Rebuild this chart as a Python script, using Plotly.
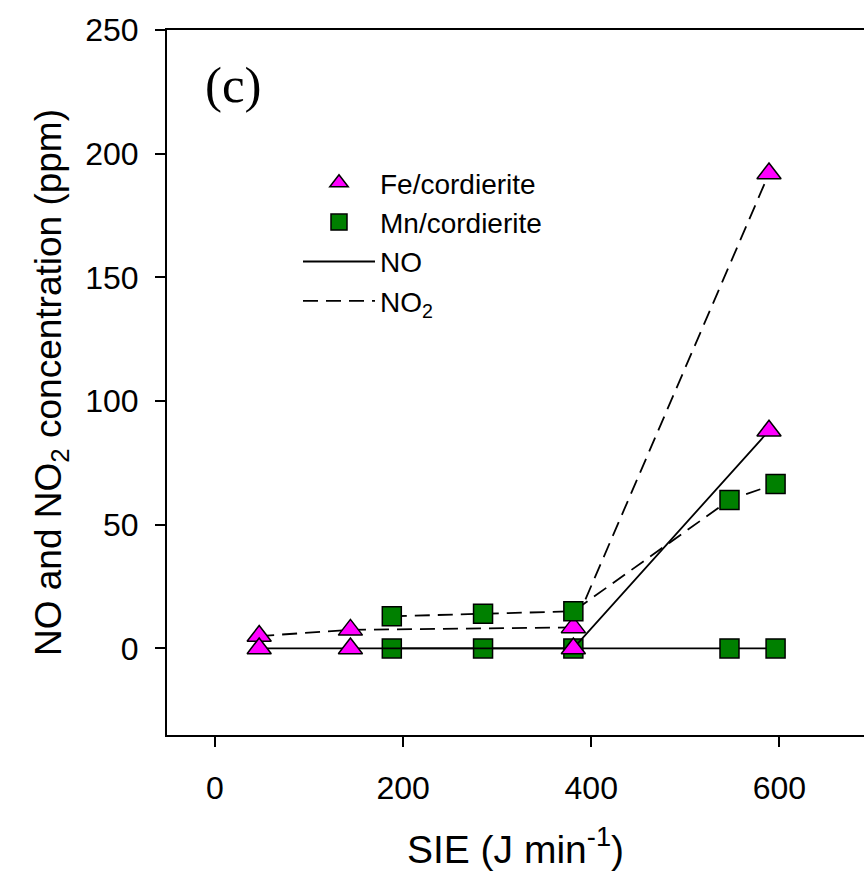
import plotly.graph_objects as go

# ---- data ----
fe_sie = [47, 144, 381, 589]
fe_no = [0, 0, 0, 88]
fe_no2 = [5, 7.5, 8.5, 192]

mn_sie = [188, 285, 381, 547, 596]
mn_no = [0, 0, 0, 0, 0]
mn_no2 = [13, 14, 15, 60, 66.5]

x_ticks = [0, 200, 400, 600]
y_ticks = [0, 50, 100, 150, 200, 250]

FE_COLOR = "#FF00FF"
MN_COLOR = "#008000"
DASH = "15px,8px"

fe_marker = dict(symbol="triangle-up", size=21, color=FE_COLOR,
                 line=dict(color="black", width=1.5))
mn_marker = dict(symbol="square", size=19, color=MN_COLOR,
                 line=dict(color="black", width=1.5))

fig = go.Figure()

# data traces (drawing order chosen to match overlaps)
fig.add_trace(go.Scatter(x=mn_sie, y=mn_no, mode="lines+markers",
                         line=dict(color="black", width=1.8),
                         marker=mn_marker, showlegend=False))
fig.add_trace(go.Scatter(x=fe_sie, y=fe_no2, mode="lines+markers",
                         line=dict(color="black", width=1.8, dash=DASH),
                         marker=fe_marker, showlegend=False))
fig.add_trace(go.Scatter(x=mn_sie, y=mn_no2, mode="lines+markers",
                         line=dict(color="black", width=1.8, dash=DASH),
                         marker=mn_marker, showlegend=False))
fig.add_trace(go.Scatter(x=fe_sie, y=fe_no, mode="lines+markers",
                         line=dict(color="black", width=1.8),
                         marker=fe_marker, showlegend=False))

# legend entries
fig.add_trace(go.Scatter(x=[None], y=[None], mode="markers", marker=fe_marker,
                         name="Fe/cordierite", legendgroup="a"))
fig.add_trace(go.Scatter(x=[None], y=[None], mode="markers", marker=mn_marker,
                         name="Mn/cordierite", legendgroup="b"))
fig.add_trace(go.Scatter(x=[None], y=[None], mode="lines",
                         line=dict(color="black", width=1.8),
                         name="NO", legendgroup="c"))
fig.add_trace(go.Scatter(x=[None], y=[None], mode="lines",
                         line=dict(color="black", width=1.8, dash=DASH),
                         name="NO<sub>2</sub>", legendgroup="d"))

fig.add_annotation(text="(c)", xref="paper", yref="paper",
                   x=(233 - 167) / 697, y=(735 - 85) / 705,
                   showarrow=False, xanchor="center", yanchor="middle",
                   font=dict(family="Liberation Serif", size=51, color="black"))

fig.update_layout(
    width=864, height=871,
    margin=dict(l=167, r=0, t=30, b=136),
    paper_bgcolor="white", plot_bgcolor="white",
    font=dict(family="Liberation Sans, Arial", color="black"),
    showlegend=True,
    legend=dict(x=(298 - 167) / 697, y=(735 - 158) / 705,
                xanchor="left", yanchor="top",
                bgcolor="rgba(0,0,0,0)", borderwidth=0,
                font=dict(size=28, color="black"),
                itemwidth=72, tracegroupgap=0, traceorder="grouped"),
    xaxis=dict(range=[-51, 690], tickvals=x_ticks,
               showgrid=False, zeroline=False,
               showline=True, linecolor="black", linewidth=2, mirror=True,
               ticks="outside", ticklen=10, tickwidth=1.5, tickcolor="black",
               tickfont=dict(size=32), ticklabelstandoff=14,
               title=dict(text="SIE (J min<sup>-1</sup>)",
                          font=dict(size=39), standoff=30)),
    yaxis=dict(range=[-35, 250], tickvals=y_ticks,
               showgrid=False, zeroline=False,
               showline=True, linecolor="black", linewidth=2, mirror=False,
               ticks="outside", ticklen=10, tickwidth=1.5, tickcolor="black",
               tickfont=dict(size=32), ticklabelstandoff=10,
               title=dict(text="NO and NO<sub>2</sub> concentration (ppm)",
                          font=dict(size=37), standoff=12)),
)

fig.write_html("out.html")
